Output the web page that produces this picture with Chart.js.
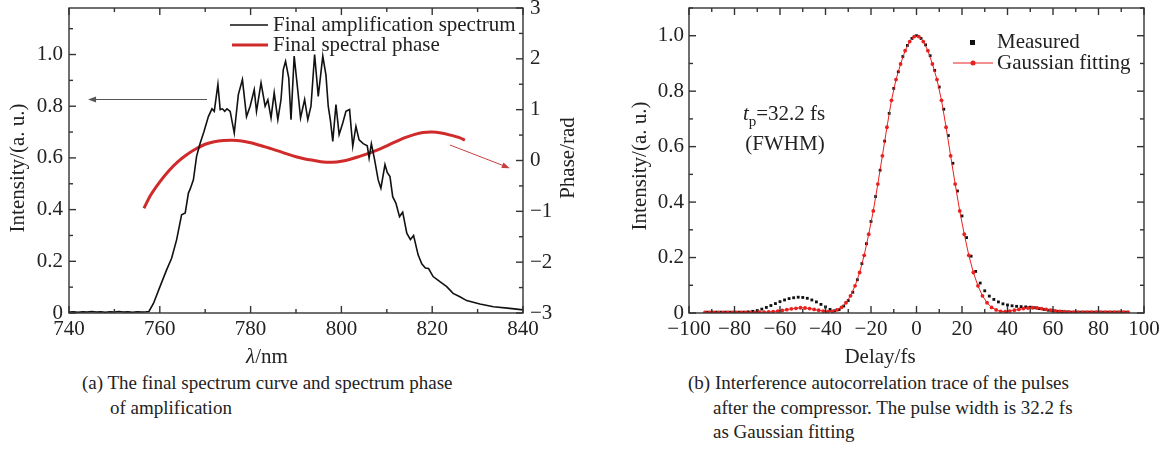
<!DOCTYPE html>
<html>
<head>
<meta charset="utf-8">
<script src="https://cdn.jsdelivr.net/npm/chart.js@4.4.1/dist/chart.umd.min.js"></script>
<style>
    body { margin: 0; background: #fff; width: 1169px; height: 450px; position: relative; overflow: hidden;
           font-family: "Liberation Serif", "Times New Roman", serif; color: #222; }
    canvas { position: absolute; top: 0; }
    #chartA { left: 0; }
    #chartB { left: 590px; }
    .cap { position: absolute; font-size: 19px; line-height: 24px; white-space: nowrap; }
</style>
</head>
<body>
<canvas id="chartA" width="590" height="370"></canvas>
<canvas id="chartB" width="579" height="370"></canvas>
<div class="cap" style="left:82px;top:371px">(a) The final spectrum curve and spectrum phase</div>
<div class="cap" style="left:110px;top:396px">of amplification</div>
<div class="cap" style="left:688px;top:371px">(b) Interference autocorrelation trace of the pulses</div>
<div class="cap" style="left:713px;top:396px">after the compressor. The pulse width is 32.2 fs</div>
<div class="cap" style="left:713px;top:420px">as Gaussian fitting</div>
<script>
// (a) final amplification spectrum
const specWl = [740, 741, 742, 743, 744, 745, 746, 747, 748, 749, 750, 751, 752, 753, 754, 755, 756, 757, 757.6,
    758.6, 760, 761.5, 762.6, 763.7, 764.8, 765.6, 766.3, 766.7, 767.4, 768.1, 768.9, 769.7, 770.7, 771.5, 772, 772.8,
    773.3, 773.8, 774.3, 774.8, 775.5, 776.4, 777.3, 778.2, 779.1, 779.9, 780.8, 781.3, 782.3, 783.2, 783.8, 784.5,
    785.2, 786, 786.7, 787.2, 787.7, 788.4, 788.9, 789.6, 790.4, 791, 791.9, 792.6, 793.3, 794.1, 794.9, 795.9, 796.6,
    797.1, 797.6, 798.1, 798.8, 799.5, 800.3, 801, 801.8, 802.5, 803.2, 803.9, 804.8, 805.7, 806.1, 806.6, 807.3,
    808.1, 808.7, 809.6, 810.1, 810.7, 811.3, 812, 812.8, 813.5, 814.4, 815.2, 815.9, 816.9, 817.7, 818.5, 819.2,
    820.2, 821.7, 823.2, 824.6, 826.1, 827.6, 830.5, 833.5, 837.1, 840];
const specInt = [0.004, 0.005, 0.003, 0.005, 0.004, 0.006, 0.004, 0.005, 0.003, 0.005, 0.004, 0.006, 0.004, 0.005, 0.003, 0.005, 0.004, 0.005, 0.006,
    0.037, 0.10, 0.167, 0.212, 0.283, 0.38, 0.387, 0.464, 0.48, 0.515, 0.606, 0.658, 0.70, 0.76, 0.79, 0.78, 0.884,
    0.787, 0.79, 0.78, 0.79, 0.78, 0.696, 0.845, 0.903, 0.76, 0.80, 0.864, 0.78, 0.89, 0.80, 0.825, 0.755,
    0.852, 0.748, 0.826, 0.942, 0.974, 0.91, 0.748, 0.994, 0.86, 0.755, 0.826, 0.748, 0.80, 1.0, 0.838, 0.994, 0.92,
    0.80, 0.742, 0.664, 0.806, 0.69, 0.735, 0.78, 0.787, 0.645, 0.722, 0.67, 0.655, 0.647, 0.60, 0.655, 0.594,
    0.515, 0.483, 0.574, 0.544, 0.528, 0.45, 0.425, 0.373, 0.39, 0.309, 0.284, 0.30, 0.225, 0.19, 0.174, 0.172,
    0.141, 0.121, 0.102, 0.076, 0.063, 0.048, 0.035, 0.024, 0.018, 0.012];

// (a) final spectral phase (rad)
const phaseWl = [756.5, 758, 760, 762, 764, 766, 768, 770, 772, 774, 776, 778, 780, 782, 784, 786, 788, 790, 792,
    794, 796, 798, 800, 802, 804, 806, 808, 810, 812, 814, 816, 818, 820, 822, 824, 826, 827.2];
const phaseRad = [-0.94, -0.68, -0.42, -0.2, -0.02, 0.12, 0.23, 0.32, 0.37, 0.395, 0.40, 0.385, 0.35, 0.30, 0.245, 0.19, 0.13, 0.075, 0.03,
    0.0, -0.03, -0.035, -0.015, 0.025, 0.08, 0.14, 0.21, 0.29, 0.37, 0.45, 0.51, 0.55, 0.56, 0.54, 0.50, 0.45, 0.40];

// (b) autocorrelation trace
const measDelay = [-92, -90, -88, -86, -84, -82, -80, -78, -76, -74, -72, -70, -68, -66, -64, -62, -60, -58, -56, -54,
    -52, -50, -48, -46, -44, -42, -40, -38, -36, -34, -32, -30, -28, -26, -24, -22, -20, -18, -16, -14, -12, -10, -8, -6,
    -4, -2, 0, 2, 4, 6, 8, 10, 12, 14, 16, 18, 20, 22, 24, 26, 28, 30, 32, 34, 36, 38, 40, 42, 44, 46, 48, 50, 52, 54,
    56, 58, 60, 62, 64, 66, 68, 70, 72, 74, 76, 78, 80, 82, 84, 86, 88, 90, 92];
const measInt = [0.003, 0.003, 0.003, 0.003, 0.003, 0.003, 0.003, 0.003, 0.003, 0.004, 0.006, 0.009, 0.014, 0.020, 0.027, 0.034, 0.041, 0.047, 0.052, 0.055,
    0.057, 0.056, 0.053, 0.047, 0.040, 0.031, 0.022, 0.013, 0.008, 0.012, 0.025, 0.045, 0.075, 0.120, 0.178, 0.250, 0.330, 0.420, 0.515, 0.620, 0.720, 0.810, 0.870, 0.925,
    0.965, 0.990, 1.000, 0.990, 0.967, 0.928, 0.875, 0.815, 0.735, 0.640, 0.540, 0.440, 0.350, 0.272, 0.205, 0.150, 0.108, 0.080, 0.061, 0.049, 0.040, 0.033, 0.029, 0.026, 0.024, 0.023, 0.022, 0.021, 0.019, 0.016,
    0.013, 0.010, 0.008, 0.006, 0.005, 0.004, 0.003, 0.003, 0.003, 0.003, 0.003, 0.003, 0.003, 0.003, 0.003, 0.003, 0.003, 0.003, 0.003];
const fitDelay = [-93, -91, -89, -87, -85, -83, -81, -79, -77, -75, -73, -71, -69, -67, -65, -63, -61, -59, -57, -55,
    -53, -51, -49, -47, -45, -43, -41, -39, -37, -35, -33, -31, -29, -27, -25, -23, -21, -19, -17, -15, -13, -11, -9, -7,
    -5, -3, -1, 1, 3, 5, 7, 9, 11, 13, 15, 17, 19, 21, 23, 25, 27, 29, 31, 33, 35, 37, 39, 41, 43, 45, 47, 49, 51, 53,
    55, 57, 59, 61, 63, 65, 67, 69, 71, 73, 75, 77, 79, 81, 83, 85, 87, 89, 91, 93];
const fitInt = [0.002, 0.002, 0.002, 0.002, 0.002, 0.002, 0.002, 0.002, 0.002, 0.002, 0.002, 0.002, 0.003, 0.003, 0.004, 0.005, 0.007, 0.009, 0.012, 0.015,
    0.017, 0.019, 0.018, 0.016, 0.013, 0.010, 0.007, 0.005, 0.006, 0.011, 0.020, 0.037, 0.062, 0.098, 0.146, 0.208, 0.284, 0.368, 0.465, 0.567, 0.670, 0.767, 0.842, 0.898,
    0.946, 0.979, 0.997, 0.997, 0.979, 0.946, 0.898, 0.842, 0.767, 0.670, 0.567, 0.465, 0.368, 0.284, 0.208, 0.146, 0.098, 0.062, 0.037, 0.020, 0.011, 0.006, 0.005, 0.007, 0.010, 0.013, 0.016, 0.018, 0.019, 0.018,
    0.016, 0.013, 0.010, 0.008, 0.006, 0.005, 0.004, 0.003, 0.003, 0.003, 0.003, 0.003, 0.003, 0.003, 0.003, 0.003, 0.003, 0.003, 0.003, 0.003];

// tick labels
const wlTicks = [740, 760, 780, 800, 820, 840];
const intTicks = [0, 0.2, 0.4, 0.6, 0.8, 1.0];
const phaseTicks = [-3, -2, -1, 0, 1, 2, 3];
const delayTicks = [-100, -80, -60, -40, -20, 0, 20, 40, 60, 80, 100];

const SERIF = '"Liberation Serif", "Times New Roman", serif';
const TXT = '#222';
const AXIS = '#333';
const RED_PHASE = '#d02a2a';
const RED_FIT = '#e8201e';

const minus = v => String(v).replace('-', '\u2212');
const intLabel = v => v === 0 ? '0' : v.toFixed(1);
const pts = (xs, ys) => xs.map((x, i) => ({ x: x, y: ys[i] }));

function fixedTicks(list) {
    return scale => { scale.ticks = list.map(v => ({ value: v })); };
}
function fixWidth(w) {
    return scale => { scale.width = w; scale.paddingTop = 0; scale.paddingBottom = 0; };
}
function fixHeight(h) {
    return scale => { scale.height = h; scale.paddingLeft = 0; scale.paddingRight = 0; };
}

// inward ticks + box frame
function drawFrame(chart, marks) {
    const { ctx, chartArea: a } = chart;
    ctx.save();
    ctx.strokeStyle = AXIS;
    ctx.lineWidth = 1.4;
    ctx.strokeRect(a.left, a.top, a.right - a.left, a.bottom - a.top);
    marks.forEach(m => {
        const s = chart.scales[m.scale];
        const n = Math.round((m.to - m.from) / m.minor);
        for (let i = 0; i <= n; i++) {
            const v = m.from + i * m.minor;
            const major = Math.abs(v / m.major - Math.round(v / m.major)) < 1e-6;
            const len = major ? 7 : 4;
            const p = s.getPixelForValue(v);
            ctx.beginPath();
            if (m.side === 'bottom') { ctx.moveTo(p, a.bottom); ctx.lineTo(p, a.bottom - len); }
            if (m.side === 'top') { ctx.moveTo(p, a.top); ctx.lineTo(p, a.top + len); }
            if (m.side === 'left') { ctx.moveTo(a.left, p); ctx.lineTo(a.left + len, p); }
            if (m.side === 'right') { ctx.moveTo(a.right, p); ctx.lineTo(a.right - len, p); }
            ctx.stroke();
        }
    });
    ctx.restore();
}

function rotText(ctx, txt, x, y) {
    ctx.save();
    ctx.translate(x, y);
    ctx.rotate(-Math.PI / 2);
    ctx.textAlign = 'center';
    ctx.textBaseline = 'middle';
    ctx.font = '21px ' + SERIF;
    ctx.fillText(txt, 0, 0);
    ctx.restore();
}

// text made of runs: [text, style] style: '' | 'i' | 'sub'
function runText(ctx, parts, x, y, align) {
    const fontOf = st => st === 'i' ? 'italic 21px ' + SERIF : (st === 'sub' ? '15px ' + SERIF : '21px ' + SERIF);
    let w = 0;
    parts.forEach(([t, st]) => { ctx.font = fontOf(st); w += ctx.measureText(t).width; });
    let cx = align === 'center' ? x - w / 2 : x;
    ctx.textAlign = 'left';
    ctx.textBaseline = 'middle';
    parts.forEach(([t, st]) => {
        ctx.font = fontOf(st);
        ctx.fillText(t, cx, st === 'sub' ? y + 7 : y);
        cx += ctx.measureText(t).width;
    });
}

function arrow(ctx, x1, y1, x2, y2, color) {
    const ang = Math.atan2(y2 - y1, x2 - x1);
    ctx.save();
    ctx.strokeStyle = color;
    ctx.fillStyle = color;
    ctx.lineWidth = 1;
    ctx.beginPath();
    ctx.moveTo(x1, y1);
    ctx.lineTo(x2 - 6 * Math.cos(ang), y2 - 6 * Math.sin(ang));
    ctx.stroke();
    ctx.beginPath();
    ctx.moveTo(x2, y2);
    ctx.lineTo(x2 - 8 * Math.cos(ang) + 3 * Math.sin(ang), y2 - 8 * Math.sin(ang) - 3 * Math.cos(ang));
    ctx.lineTo(x2 - 8 * Math.cos(ang) - 3 * Math.sin(ang), y2 - 8 * Math.sin(ang) + 3 * Math.cos(ang));
    ctx.closePath();
    ctx.fill();
    ctx.restore();
}

function legendLine(ctx, x1, x2, y, color, width) {
    ctx.save();
    ctx.strokeStyle = color;
    ctx.lineWidth = width;
    ctx.beginPath();
    ctx.moveTo(x1, y);
    ctx.lineTo(x2, y);
    ctx.stroke();
    ctx.restore();
}

const decorA = {
    id: 'decorA',
    afterDraw(chart) {
        const { ctx, scales: { x, y, y2 } } = chart;
        drawFrame(chart, [
            { scale: 'x', side: 'bottom', from: 740, to: 840, minor: 10, major: 20 },
            { scale: 'x', side: 'top', from: 740, to: 840, minor: 10, major: 20 },
            { scale: 'y', side: 'left', from: 0, to: 1.1, minor: 0.1, major: 0.2 },
            { scale: 'y2', side: 'right', from: -3, to: 3, minor: 0.5, major: 1 }
        ]);
        ctx.save();
        ctx.fillStyle = TXT;
        rotText(ctx, 'Intensity/(a. u.)', 18, 168);
        rotText(ctx, 'Phase/rad', 568, 158);
        runText(ctx, [['\u03bb', 'i'], ['/nm', '']], 267, 357, 'center');

        legendLine(ctx, 230, 268, 25, '#111', 1.6);
        legendLine(ctx, 232, 268, 45, RED_PHASE, 3);
        ctx.fillStyle = TXT;
        runText(ctx, [['Final amplification spectrum', '']], 273, 25, 'left');
        runText(ctx, [['Final spectral phase', '']], 273, 45, 'left');

        arrow(ctx, x.getPixelForValue(770.4), y.getPixelForValue(0.826),
              x.getPixelForValue(744.2), y.getPixelForValue(0.826), '#555');
        arrow(ctx, x.getPixelForValue(823.9), y2.getPixelForValue(0.305),
              x.getPixelForValue(837.1), y2.getPixelForValue(-0.15), '#c84040');
        ctx.restore();
    }
};

const decorB = {
    id: 'decorB',
    afterDraw(chart) {
        const { ctx, scales: { x, y } } = chart;
        drawFrame(chart, [
            { scale: 'x', side: 'bottom', from: -100, to: 100, minor: 10, major: 20 },
            { scale: 'x', side: 'top', from: -100, to: 100, minor: 10, major: 20 },
            { scale: 'y', side: 'left', from: 0, to: 1.1, minor: 0.1, major: 0.2 },
            { scale: 'y', side: 'right', from: 0, to: 1.1, minor: 0.1, major: 0.2 }
        ]);
        ctx.save();
        ctx.fillStyle = TXT;
        rotText(ctx, 'Intensity/(a. u.)', 50, 166);
        runText(ctx, [['Delay/fs', '']], 290, 357, 'center');

        runText(ctx, [['t', 'i'], ['p', 'sub'], ['=32.2 fs', '']], x.getPixelForValue(-76.3), y.getPixelForValue(0.715), 'left');
        runText(ctx, [['(FWHM)', '']], x.getPixelForValue(-57.8), y.getPixelForValue(0.607), 'center');

        ctx.fillStyle = '#111';
        ctx.fillRect(380, 40, 5, 5);
        legendLine(ctx, 363, 403, 63, RED_FIT, 1);
        ctx.fillStyle = RED_FIT;
        ctx.beginPath();
        ctx.arc(383, 63, 2.5, 0, Math.PI * 2);
        ctx.fill();
        ctx.fillStyle = TXT;
        runText(ctx, [['Measured', '']], 407, 42, 'left');
        runText(ctx, [['Gaussian fitting', '']], 407, 63, 'left');
        ctx.restore();
    }
};

const tickFont = { family: SERIF, size: 21 };
const hidden = { display: false, drawTicks: false };

new Chart(document.getElementById('chartA'), {
    type: 'line',
    data: {
        datasets: [
            {
                label: 'Final amplification spectrum',
                data: pts(specWl, specInt),
                borderColor: '#111',
                borderWidth: 1.6,
                pointRadius: 0,
                yAxisID: 'y',
                order: 1
            },
            {
                label: 'Final spectral phase',
                data: pts(phaseWl, phaseRad),
                borderColor: RED_PHASE,
                borderWidth: 3,
                pointRadius: 0,
                tension: 0.3,
                yAxisID: 'y2',
                order: 2
            }
        ]
    },
    options: {
        responsive: false,
        animation: false,
        devicePixelRatio: 1,
        layout: { padding: { top: 8, left: 0, right: 0, bottom: 0 } },
        plugins: { legend: { display: false }, tooltip: { enabled: false } },
        scales: {
            x: {
                type: 'linear', min: 740, max: 840,
                grid: hidden, border: { display: false },
                afterBuildTicks: fixedTicks(wlTicks),
                afterFit: fixHeight(57),
                ticks: { font: tickFont, color: TXT, padding: 4, maxRotation: 0, autoSkip: false }
            },
            y: {
                position: 'left', min: 0, max: 1.18,
                grid: hidden, border: { display: false },
                afterBuildTicks: fixedTicks(intTicks),
                afterFit: fixWidth(69),
                ticks: { font: tickFont, color: TXT, padding: 6, callback: intLabel }
            },
            y2: {
                position: 'right', min: -3, max: 3,
                grid: hidden, border: { display: false },
                afterBuildTicks: fixedTicks(phaseTicks),
                afterFit: fixWidth(67),
                ticks: { font: tickFont, color: TXT, padding: 7, callback: minus }
            }
        }
    },
    plugins: [decorA]
});

new Chart(document.getElementById('chartB'), {
    type: 'line',
    data: {
        datasets: [
            {
                label: 'Measured',
                data: pts(measDelay, measInt),
                showLine: false,
                pointStyle: 'rect',
                pointRadius: 2,
                borderWidth: 0,
                backgroundColor: '#111',
                borderColor: '#111',
                order: 2
            },
            {
                label: 'Gaussian fitting',
                data: pts(fitDelay, fitInt),
                borderColor: RED_FIT,
                backgroundColor: RED_FIT,
                borderWidth: 1,
                pointStyle: 'circle',
                pointRadius: 1.9,
                pointBorderWidth: 0,
                order: 1
            }
        ]
    },
    options: {
        responsive: false,
        animation: false,
        devicePixelRatio: 1,
        layout: { padding: { top: 8, left: 0, right: 25, bottom: 0 } },
        plugins: { legend: { display: false }, tooltip: { enabled: false } },
        scales: {
            x: {
                type: 'linear', min: -100, max: 100,
                grid: hidden, border: { display: false },
                afterBuildTicks: fixedTicks(delayTicks),
                afterFit: fixHeight(57),
                ticks: { font: tickFont, color: TXT, padding: 4, maxRotation: 0, autoSkip: false, callback: minus }
            },
            y: {
                position: 'left', min: 0, max: 1.1,
                grid: hidden, border: { display: false },
                afterBuildTicks: fixedTicks(intTicks),
                afterFit: fixWidth(99),
                ticks: { font: tickFont, color: TXT, padding: 5, callback: intLabel }
            }
        }
    },
    plugins: [decorB]
});
</script>
</body>
</html>
